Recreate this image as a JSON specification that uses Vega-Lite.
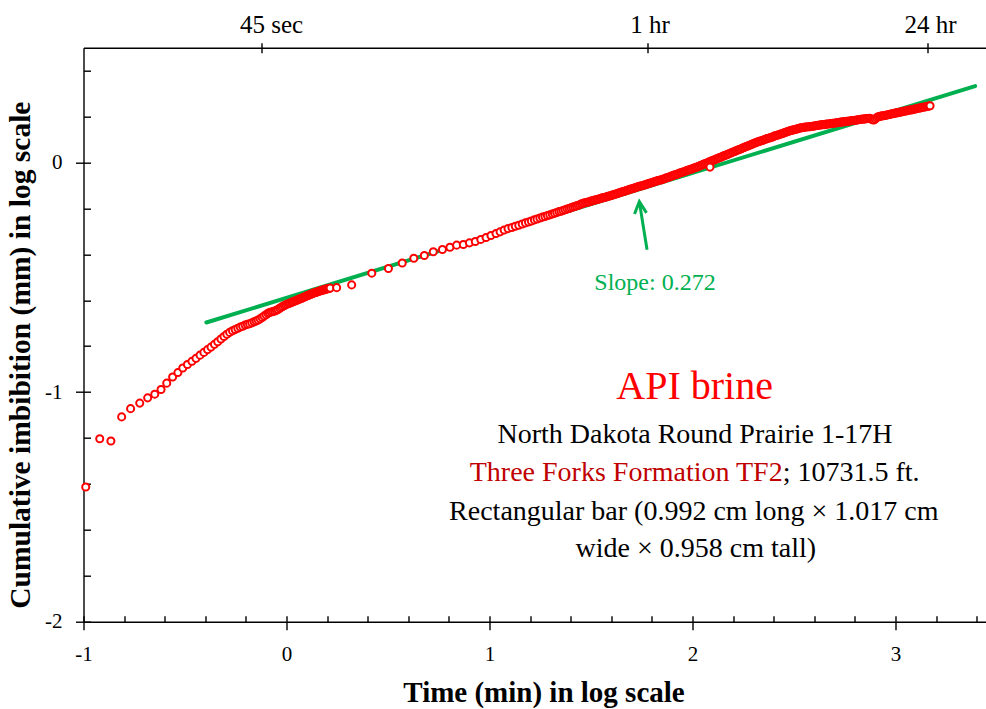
{
"$schema": "https://vega.github.io/schema/vega-lite/v6.json",
"width": 903, "height": 574,
"autosize": "none",
"padding": {"left": 83.5, "top": 47.7, "right": 0, "bottom": 87.3},
"background": "white",
"config": {"view": {"stroke": null}, "font": "Liberation Serif",
 "axis": {"grid": false, "labelFlush": false, "labelOverlap": false, "labelFont": "Liberation Serif", "titleFont": "Liberation Serif", "domainColor": "#000000", "tickColor": "#000000", "labelColor": "#000000", "titleColor": "#000000", "domainWidth": 1.4, "tickWidth": 1.4}},
"resolve": {"axis": {"x": "independent", "y": "independent"}},
"datasets": {
"fit": [{"x": -0.395, "y": -0.697}, {"x": 3.392, "y": 0.333}],
"pts": [
{"x":-0.989,"y":-1.413},{"x":-0.920,"y":-1.203},{"x":-0.865,"y":-1.213},{"x":-0.812,"y":-1.108},{"x":-0.768,"y":-1.072},{"x":-0.723,"y":-1.048},{"x":-0.684,"y":-1.025},{"x":-0.649,"y":-1.009},{"x":-0.618,"y":-0.989},{"x":-0.590,"y":-0.961},{"x":-0.561,"y":-0.934},{"x":-0.535,"y":-0.915},{"x":-0.511,"y":-0.895},
{"x":-0.488,"y":-0.880},{"x":-0.466,"y":-0.866},{"x":-0.446,"y":-0.853},{"x":-0.426,"y":-0.839},{"x":-0.407,"y":-0.827},{"x":-0.389,"y":-0.815},{"x":-0.372,"y":-0.804},{"x":-0.355,"y":-0.792},{"x":-0.339,"y":-0.781},{"x":-0.323,"y":-0.769},{"x":-0.308,"y":-0.758},{"x":-0.294,"y":-0.748},{"x":-0.280,"y":-0.740},{"x":-0.266,"y":-0.733},{"x":-0.253,"y":-0.727},{"x":-0.240,"y":-0.722},{"x":-0.228,"y":-0.717},{"x":-0.216,"y":-0.713},{"x":-0.204,"y":-0.708},{"x":-0.193,"y":-0.705},{"x":-0.182,"y":-0.702},{"x":-0.171,"y":-0.698},{"x":-0.160,"y":-0.694},{"x":-0.150,"y":-0.690},{"x":-0.140,"y":-0.686},{"x":-0.130,"y":-0.681},{"x":-0.120,"y":-0.675},{"x":-0.111,"y":-0.669},{"x":-0.101,"y":-0.663},{"x":-0.092,"y":-0.657},{"x":-0.084,"y":-0.654},{"x":-0.075,"y":-0.651},{"x":-0.066,"y":-0.649},{"x":-0.058,"y":-0.647},{"x":-0.050,"y":-0.644},{"x":-0.042,"y":-0.640},{"x":-0.034,"y":-0.635},{"x":-0.026,"y":-0.631},{"x":-0.019,"y":-0.627},{"x":-0.011,"y":-0.623},{"x":-0.004,"y":-0.620},{"x":0.004,"y":-0.617},{"x":0.011,"y":-0.614},{"x":0.018,"y":-0.612},{"x":0.025,"y":-0.609},{"x":0.031,"y":-0.607},{"x":0.038,"y":-0.605},{"x":0.045,"y":-0.602},{"x":0.051,"y":-0.600},{"x":0.058,"y":-0.597},{"x":0.064,"y":-0.595},{"x":0.070,"y":-0.593},{"x":0.076,"y":-0.591},{"x":0.082,"y":-0.588},{"x":0.088,"y":-0.586},{"x":0.094,"y":-0.584},{"x":0.100,"y":-0.581},{"x":0.105,"y":-0.579},{"x":0.111,"y":-0.577},{"x":0.117,"y":-0.575},{"x":0.122,"y":-0.573},{"x":0.128,"y":-0.571},{"x":0.133,"y":-0.569},{"x":0.138,"y":-0.567},{"x":0.144,"y":-0.566},{"x":0.149,"y":-0.564},{"x":0.154,"y":-0.563},{"x":0.159,"y":-0.561},{"x":0.164,"y":-0.560},{"x":0.169,"y":-0.558},{"x":0.174,"y":-0.557},{"x":0.178,"y":-0.556},{"x":0.183,"y":-0.555},{"x":0.188,"y":-0.553},{"x":0.193,"y":-0.552},{"x":0.197,"y":-0.551},{"x":0.202,"y":-0.550},{"x":0.206,"y":-0.549},{"x":0.211,"y":-0.548},{"x":0.215,"y":-0.547},{"x":0.247,"y":-0.545},
{"x":0.321,"y":-0.533},{"x":0.420,"y":-0.482},{"x":0.502,"y":-0.462},{"x":0.570,"y":-0.438},{"x":0.627,"y":-0.417},{"x":0.679,"y":-0.405},{"x":0.723,"y":-0.389},{"x":0.768,"y":-0.379},{"x":0.805,"y":-0.369},{"x":0.838,"y":-0.360},{"x":0.871,"y":-0.357},{"x":0.901,"y":-0.350},{"x":0.930,"y":-0.344},{"x":0.957,"y":-0.335},{"x":0.983,"y":-0.327},{"x":1.007,"y":-0.318},{"x":1.032,"y":-0.309},
{"x":1.052,"y":-0.302},{"x":1.072,"y":-0.294},{"x":1.091,"y":-0.288},{"x":1.110,"y":-0.283},{"x":1.127,"y":-0.278},{"x":1.144,"y":-0.273},{"x":1.161,"y":-0.268},{"x":1.177,"y":-0.263},{"x":1.192,"y":-0.259},{"x":1.206,"y":-0.255},{"x":1.221,"y":-0.250},{"x":1.234,"y":-0.246},{"x":1.248,"y":-0.242},{"x":1.261,"y":-0.238},{"x":1.273,"y":-0.235},{"x":1.285,"y":-0.231},{"x":1.297,"y":-0.228},{"x":1.309,"y":-0.224},{"x":1.320,"y":-0.221},{"x":1.331,"y":-0.218},{"x":1.342,"y":-0.214},{"x":1.352,"y":-0.212},{"x":1.362,"y":-0.209},{"x":1.372,"y":-0.206},{"x":1.382,"y":-0.203},{"x":1.392,"y":-0.200},{"x":1.401,"y":-0.197},{"x":1.410,"y":-0.194},{"x":1.419,"y":-0.192},{"x":1.428,"y":-0.189},{"x":1.437,"y":-0.186},{"x":1.445,"y":-0.184},{"x":1.453,"y":-0.180},{"x":1.461,"y":-0.178},{"x":1.469,"y":-0.176},{"x":1.477,"y":-0.174},{"x":1.485,"y":-0.172},{"x":1.492,"y":-0.171},
{"x":1.500,"y":-0.168},{"x":1.507,"y":-0.167},{"x":1.514,"y":-0.165},{"x":1.521,"y":-0.163},{"x":1.528,"y":-0.161},{"x":1.535,"y":-0.160},{"x":1.542,"y":-0.158},{"x":1.549,"y":-0.156},{"x":1.556,"y":-0.154},{"x":1.563,"y":-0.153},{"x":1.570,"y":-0.151},{"x":1.577,"y":-0.149},{"x":1.584,"y":-0.147},{"x":1.591,"y":-0.146},{"x":1.598,"y":-0.144},{"x":1.605,"y":-0.142},
{"x":1.612,"y":-0.140},{"x":1.619,"y":-0.138},{"x":1.626,"y":-0.136},{"x":1.633,"y":-0.134},{"x":1.640,"y":-0.132},{"x":1.647,"y":-0.130},{"x":1.654,"y":-0.128},{"x":1.661,"y":-0.126},{"x":1.668,"y":-0.124},{"x":1.675,"y":-0.122},{"x":1.682,"y":-0.120},{"x":1.689,"y":-0.118},{"x":1.696,"y":-0.116},{"x":1.703,"y":-0.114},{"x":1.710,"y":-0.112},{"x":1.717,"y":-0.110},{"x":1.724,"y":-0.108},
{"x":1.731,"y":-0.106},{"x":1.738,"y":-0.104},{"x":1.745,"y":-0.102},{"x":1.752,"y":-0.101},{"x":1.759,"y":-0.099},{"x":1.766,"y":-0.097},{"x":1.773,"y":-0.095},{"x":1.780,"y":-0.093},{"x":1.787,"y":-0.091},{"x":1.794,"y":-0.089},{"x":1.801,"y":-0.087},{"x":1.808,"y":-0.085},{"x":1.815,"y":-0.083},{"x":1.822,"y":-0.081},{"x":1.829,"y":-0.079},{"x":1.836,"y":-0.077},{"x":1.843,"y":-0.076},{"x":1.850,"y":-0.074},
{"x":1.857,"y":-0.072},{"x":1.864,"y":-0.070},{"x":1.871,"y":-0.067},{"x":1.878,"y":-0.065},{"x":1.885,"y":-0.063},{"x":1.892,"y":-0.061},{"x":1.899,"y":-0.058},{"x":1.906,"y":-0.056},{"x":1.913,"y":-0.054},{"x":1.920,"y":-0.052},{"x":1.927,"y":-0.050},{"x":1.934,"y":-0.047},{"x":1.941,"y":-0.045},{"x":1.948,"y":-0.043},{"x":1.955,"y":-0.041},{"x":1.962,"y":-0.039},{"x":1.969,"y":-0.036},{"x":1.976,"y":-0.034},{"x":1.983,"y":-0.032},{"x":1.990,"y":-0.030},{"x":1.997,"y":-0.028},{"x":2.004,"y":-0.025},{"x":2.011,"y":-0.023},{"x":2.018,"y":-0.021},
{"x":2.025,"y":-0.019},{"x":2.032,"y":-0.016},{"x":2.039,"y":-0.013},{"x":2.046,"y":-0.011},{"x":2.053,"y":-0.008},{"x":2.060,"y":-0.006},{"x":2.067,"y":-0.003},{"x":2.074,"y":-0.001},{"x":2.081,"y":0.002},{"x":2.088,"y":0.005},{"x":2.095,"y":0.007},{"x":2.102,"y":0.010},{"x":2.109,"y":0.012},{"x":2.116,"y":0.015},{"x":2.123,"y":0.017},{"x":2.130,"y":0.020},{"x":2.137,"y":0.022},{"x":2.144,"y":0.025},{"x":2.151,"y":0.028},
{"x":2.158,"y":0.030},{"x":2.165,"y":0.033},{"x":2.172,"y":0.035},{"x":2.179,"y":0.038},{"x":2.186,"y":0.040},{"x":2.193,"y":0.043},{"x":2.200,"y":0.046},{"x":2.207,"y":0.048},{"x":2.214,"y":0.051},{"x":2.221,"y":0.053},{"x":2.228,"y":0.056},{"x":2.235,"y":0.058},{"x":2.242,"y":0.061},{"x":2.249,"y":0.064},{"x":2.256,"y":0.066},{"x":2.263,"y":0.069},{"x":2.270,"y":0.071},{"x":2.277,"y":0.074},{"x":2.284,"y":0.076},{"x":2.291,"y":0.079},{"x":2.298,"y":0.081},{"x":2.305,"y":0.084},{"x":2.312,"y":0.087},
{"x":2.319,"y":0.089},{"x":2.326,"y":0.091},{"x":2.333,"y":0.093},{"x":2.340,"y":0.095},{"x":2.347,"y":0.097},{"x":2.354,"y":0.100},{"x":2.361,"y":0.102},{"x":2.368,"y":0.104},{"x":2.375,"y":0.106},{"x":2.382,"y":0.108},{"x":2.389,"y":0.110},{"x":2.396,"y":0.112},{"x":2.403,"y":0.115},{"x":2.410,"y":0.117},{"x":2.417,"y":0.119},{"x":2.424,"y":0.121},{"x":2.431,"y":0.123},{"x":2.438,"y":0.125},{"x":2.445,"y":0.127},{"x":2.452,"y":0.129},{"x":2.459,"y":0.132},{"x":2.466,"y":0.134},{"x":2.473,"y":0.136},
{"x":2.480,"y":0.138},{"x":2.487,"y":0.140},{"x":2.494,"y":0.141},{"x":2.501,"y":0.143},{"x":2.508,"y":0.145},{"x":2.515,"y":0.146},{"x":2.522,"y":0.148},{"x":2.529,"y":0.150},
{"x":2.536,"y":0.151},{"x":2.543,"y":0.152},{"x":2.550,"y":0.153},{"x":2.557,"y":0.154},{"x":2.564,"y":0.155},{"x":2.571,"y":0.156},{"x":2.578,"y":0.156},{"x":2.585,"y":0.157},{"x":2.592,"y":0.158},{"x":2.599,"y":0.159},{"x":2.606,"y":0.160},
{"x":2.613,"y":0.161},{"x":2.620,"y":0.162},{"x":2.627,"y":0.163},{"x":2.634,"y":0.164},{"x":2.641,"y":0.165},{"x":2.648,"y":0.165},{"x":2.655,"y":0.166},{"x":2.662,"y":0.167},{"x":2.669,"y":0.168},{"x":2.676,"y":0.169},{"x":2.683,"y":0.170},{"x":2.690,"y":0.171},{"x":2.697,"y":0.171},{"x":2.704,"y":0.172},{"x":2.711,"y":0.173},{"x":2.718,"y":0.174},{"x":2.725,"y":0.175},{"x":2.732,"y":0.176},{"x":2.739,"y":0.177},{"x":2.746,"y":0.177},{"x":2.753,"y":0.178},{"x":2.760,"y":0.179},{"x":2.767,"y":0.180},{"x":2.774,"y":0.181},{"x":2.781,"y":0.182},{"x":2.788,"y":0.183},{"x":2.795,"y":0.183},{"x":2.802,"y":0.184},{"x":2.809,"y":0.185},{"x":2.816,"y":0.186},{"x":2.823,"y":0.187},{"x":2.830,"y":0.188},{"x":2.837,"y":0.189},{"x":2.844,"y":0.189},{"x":2.851,"y":0.190},{"x":2.858,"y":0.191},{"x":2.865,"y":0.192},{"x":2.872,"y":0.193},
{"x":2.879,"y":0.190},{"x":2.886,"y":0.186},{"x":2.893,"y":0.185},{"x":2.900,"y":0.189},{"x":2.907,"y":0.195},{"x":2.914,"y":0.199},
{"x":2.921,"y":0.200},{"x":2.928,"y":0.202},{"x":2.935,"y":0.203},{"x":2.942,"y":0.204},{"x":2.949,"y":0.205},{"x":2.956,"y":0.207},{"x":2.963,"y":0.208},{"x":2.970,"y":0.209},{"x":2.977,"y":0.211},{"x":2.984,"y":0.212},{"x":2.991,"y":0.213},{"x":2.998,"y":0.215},{"x":3.005,"y":0.216},{"x":3.012,"y":0.217},{"x":3.019,"y":0.219},{"x":3.026,"y":0.220},{"x":3.033,"y":0.221},{"x":3.040,"y":0.223},{"x":3.047,"y":0.224},{"x":3.054,"y":0.225},{"x":3.061,"y":0.227},{"x":3.068,"y":0.228},{"x":3.075,"y":0.229},{"x":3.082,"y":0.230},{"x":3.089,"y":0.232},{"x":3.096,"y":0.233},{"x":3.103,"y":0.234},{"x":3.110,"y":0.236},{"x":3.117,"y":0.237},{"x":3.124,"y":0.238},{"x":3.131,"y":0.240},{"x":3.138,"y":0.241},{"x":3.145,"y":0.242},{"x":3.152,"y":0.244},{"x":3.159,"y":0.245},{"x":3.166,"y":0.246},{"x":3.170,"y":0.247},
{"x":2.086,"y":-0.020}
]
},
"layer": [
{
 "data": {"name": "fit"},
 "mark": {"type": "line", "color": "#00B050", "strokeWidth": 4, "strokeCap": "round"},
 "encoding": {
  "x": {"field": "x", "type": "quantitative", "scale": {"domain": [-1, 3.448], "nice": false, "zero": false},
   "axis": {"orient": "bottom", "values": [-1, 0, 1, 2, 3], "tickSize": 8, "labelFontSize": 21, "labelBaseline": "alphabetic", "labelPadding": 31, "labelExpr": "'' + datum.value", "title": "Time (min) in log scale", "titleFontSize": 29, "titleFontWeight": "bold", "titleBaseline": "alphabetic", "titleAlign": "center", "titleX": 460, "titleY": 80}},
  "y": {"field": "y", "type": "quantitative", "scale": {"domain": [-2, 0.5], "nice": false, "zero": false},
   "axis": {"orient": "left", "values": [-2, -1, 0], "tickSize": 8, "labelFontSize": 21, "labelAlign": "right", "labelBaseline": "middle", "labelPadding": 13.5, "labelExpr": "'' + datum.value", "title": "Cumulative imbibition (mm) in log scale", "titleFontSize": 29.5, "titleFontWeight": "bold", "titleBaseline": "alphabetic", "titleAlign": "center", "titleAngle": -90, "titleX": -54.5, "titleY": 307}}
 }
},
{
 "data": {"name": "fit"},
 "mark": {"type": "line", "opacity": 0},
 "encoding": {
  "x": {"field": "x", "type": "quantitative", "scale": {"domain": [-1, 3.448], "nice": false, "zero": false},
   "axis": {"orient": "top", "values": [-0.1249, 1.7782, 3.1584], "tickSize": 5, "labels": false, "title": null}},
  "y": {"field": "y", "type": "quantitative", "scale": {"domain": [-2, 0.5], "nice": false, "zero": false}, "axis": null}
 }
},
{
 "data": {"name": "fit"},
 "mark": {"type": "line", "opacity": 0},
 "encoding": {
  "x": {"field": "x", "type": "quantitative", "scale": {"domain": [-1, 3.448], "nice": false, "zero": false},
   "axis": {"orient": "top", "values": [-0.1249, 1.7782, 3.1584], "tickSize": -5, "labels": false, "domain": false, "title": null}},
  "y": {"field": "y", "type": "quantitative", "scale": {"domain": [-2, 0.5], "nice": false, "zero": false}, "axis": null}
 }
},
{
 "data": {"name": "fit"},
 "mark": {"type": "line", "opacity": 0},
 "encoding": {
  "x": {"field": "x", "type": "quantitative", "scale": {"domain": [-1, 3.448], "nice": false, "zero": false},
   "axis": {"orient": "top", "values": [-0.0764, 1.788, 3.17], "tickSize": 5, "tickOpacity": 0, "domain": false, "labelFontSize": 25, "labelBaseline": "alphabetic", "labelPadding": 10.4, "labelExpr": "datum.value < 0 ? '45 sec' : (datum.value < 2 ? '1 hr' : '24 hr')", "title": null}},
  "y": {"field": "y", "type": "quantitative", "scale": {"domain": [-2, 0.5], "nice": false, "zero": false}, "axis": null}
 }
},
{
 "data": {"name": "pts"},
 "mark": {"type": "point", "shape": "circle", "filled": true, "fill": "#FFFFFF", "stroke": "#FF0000", "strokeWidth": 2, "size": 50, "opacity": 1},
 "encoding": {
  "x": {"field": "x", "type": "quantitative", "scale": {"domain": [-1, 3.448], "nice": false, "zero": false},
   "axis": {"orient": "bottom", "values": [-1, -0.8, -0.6, -0.4, -0.2, 0, 0.2, 0.4, 0.6, 0.8, 1, 1.2, 1.4, 1.6, 1.8, 2, 2.2, 2.4, 2.6, 2.8, 3, 3.2, 3.4], "tickSize": -6, "labels": false, "domain": false, "title": null}},
  "y": {"field": "y", "type": "quantitative", "scale": {"domain": [-2, 0.5], "nice": false, "zero": false},
   "axis": {"orient": "left", "values": [-2, -1.8, -1.6, -1.4, -1.2, -1, -0.8, -0.6, -0.4, -0.2, 0, 0.2, 0.4], "tickSize": -7, "labels": false, "domain": false, "title": null}}
 }
},
{
 "data": {"values": [{"label": "arrow"}]},
 "mark": {"type": "rule", "color": "#00B050", "strokeWidth": 3},
 "encoding": {
  "x": {"datum": 1.776, "type": "quantitative", "scale": {"domain": [-1, 3.448], "nice": false, "zero": false}, "axis": null},
  "y": {"datum": -0.38, "type": "quantitative", "scale": {"domain": [-2, 0.5], "nice": false, "zero": false}, "axis": null},
  "x2": {"datum": 1.739},
  "y2": {"datum": -0.176}
 }
},
{
 "data": {"values": [{"label": "arrowhead"}]},
 "mark": {"type": "point", "shape": "M -0.5 1 L 0 0 L 0.5 1", "filled": false, "stroke": "#00B050", "strokeWidth": 3, "size": 576, "angle": -5.6, "opacity": 1},
 "encoding": {
  "x": {"datum": 1.738, "type": "quantitative", "scale": {"domain": [-1, 3.448], "nice": false, "zero": false}, "axis": null},
  "y": {"datum": -0.17, "type": "quantitative", "scale": {"domain": [-2, 0.5], "nice": false, "zero": false}, "axis": null}
 }
},
{
 "data": {"values": [{"label": "Slope: 0.272"}]},
 "mark": {"type": "text", "font": "Liberation Serif", "fontSize": 24, "color": "#00B050", "align": "center", "baseline": "alphabetic"},
 "encoding": {
  "x": {"datum": 1.815, "type": "quantitative", "scale": {"domain": [-1, 3.448], "nice": false, "zero": false}, "axis": null},
  "y": {"datum": -0.555, "type": "quantitative", "scale": {"domain": [-2, 0.5], "nice": false, "zero": false}, "axis": null},
  "text": {"field": "label", "type": "nominal"}
 }
},
{
 "data": {"values": [{"label": "API brine"}]},
 "mark": {"type": "text", "font": "Liberation Serif", "fontSize": 40, "color": "#FF0000", "align": "center", "baseline": "alphabetic"},
 "encoding": {
  "x": {"datum": 2.01, "type": "quantitative", "scale": {"domain": [-1, 3.448], "nice": false, "zero": false}, "axis": null},
  "y": {"datum": -1.031, "type": "quantitative", "scale": {"domain": [-2, 0.5], "nice": false, "zero": false}, "axis": null},
  "text": {"field": "label", "type": "nominal"}
 }
},
{
 "data": {"values": [{"label": "North Dakota Round Prairie 1-17H"}]},
 "mark": {"type": "text", "font": "Liberation Serif", "fontSize": 28, "color": "#000000", "align": "center", "baseline": "alphabetic"},
 "encoding": {
  "x": {"datum": 2.012, "type": "quantitative", "scale": {"domain": [-1, 3.448], "nice": false, "zero": false}, "axis": null},
  "y": {"datum": -1.223, "type": "quantitative", "scale": {"domain": [-2, 0.5], "nice": false, "zero": false}, "axis": null},
  "text": {"field": "label", "type": "nominal"}
 }
},
{
 "data": {"values": [{"label": "Three Forks Formation TF2"}]},
 "mark": {"type": "text", "font": "Liberation Serif", "fontSize": 28, "color": "#C00000", "align": "right", "baseline": "alphabetic"},
 "encoding": {
  "x": {"datum": 2.444, "type": "quantitative", "scale": {"domain": [-1, 3.448], "nice": false, "zero": false}, "axis": null},
  "y": {"datum": -1.387, "type": "quantitative", "scale": {"domain": [-2, 0.5], "nice": false, "zero": false}, "axis": null},
  "text": {"field": "label", "type": "nominal"}
 }
},
{
 "data": {"values": [{"label": "; 10731.5 ft."}]},
 "mark": {"type": "text", "font": "Liberation Serif", "fontSize": 28, "color": "#000000", "align": "left", "baseline": "alphabetic"},
 "encoding": {
  "x": {"datum": 2.444, "type": "quantitative", "scale": {"domain": [-1, 3.448], "nice": false, "zero": false}, "axis": null},
  "y": {"datum": -1.387, "type": "quantitative", "scale": {"domain": [-2, 0.5], "nice": false, "zero": false}, "axis": null},
  "text": {"field": "label", "type": "nominal"}
 }
},
{
 "data": {"values": [{"label": "Rectangular bar (0.992 cm long × 1.017 cm"}]},
 "mark": {"type": "text", "font": "Liberation Serif", "fontSize": 28, "color": "#000000", "align": "center", "baseline": "alphabetic"},
 "encoding": {
  "x": {"datum": 2.006, "type": "quantitative", "scale": {"domain": [-1, 3.448], "nice": false, "zero": false}, "axis": null},
  "y": {"datum": -1.557, "type": "quantitative", "scale": {"domain": [-2, 0.5], "nice": false, "zero": false}, "axis": null},
  "text": {"field": "label", "type": "nominal"}
 }
},
{
 "data": {"values": [{"label": "wide × 0.958 cm tall)"}]},
 "mark": {"type": "text", "font": "Liberation Serif", "fontSize": 28, "color": "#000000", "align": "center", "baseline": "alphabetic"},
 "encoding": {
  "x": {"datum": 2.016, "type": "quantitative", "scale": {"domain": [-1, 3.448], "nice": false, "zero": false}, "axis": null},
  "y": {"datum": -1.718, "type": "quantitative", "scale": {"domain": [-2, 0.5], "nice": false, "zero": false}, "axis": null},
  "text": {"field": "label", "type": "nominal"}
 }
}
]
}
